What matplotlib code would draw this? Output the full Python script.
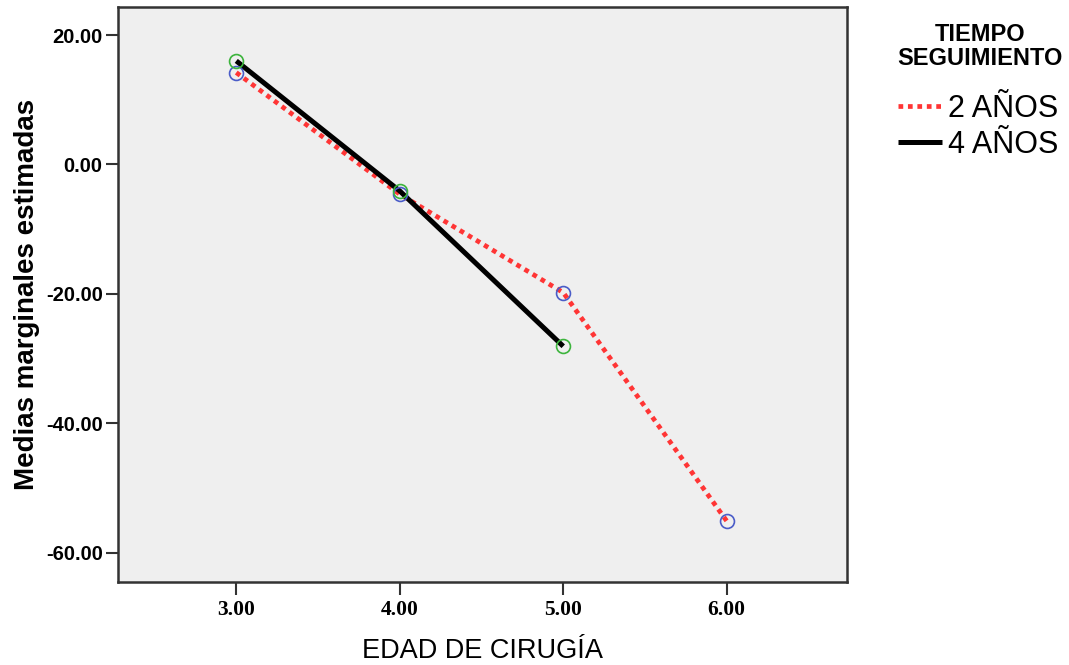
import matplotlib
matplotlib.use("Agg")
import matplotlib.pyplot as plt

# Estimated marginal means
edad = [3.0, 4.0, 5.0, 6.0]
medias_2 = [14.2, -4.6, -19.8, -55.1]
edad_4 = [3.0, 4.0, 5.0]
medias_4 = [16.0, -4.1, -28.1]

y_ticks = [20, 0, -20, -40, -60]
x_ticks = [3, 4, 5, 6]

fig = plt.figure(figsize=(10.69, 6.65), dpi=100)
ax = fig.add_axes([118 / 1069, 1 - 582 / 665, (847 - 118) / 1069, (582 - 7) / 665])
ax.set_facecolor("#efefef")

# lines
l2, = ax.plot(edad, medias_2, color="#ff3535", linestyle=(0, (1, 1)),
              linewidth=3.4, dash_capstyle="butt", zorder=2, label="2 AÑOS")
l4, = ax.plot(edad_4, medias_4, color="black", linewidth=3.6,
              solid_capstyle="butt", zorder=3, label="4 AÑOS")

# open circle markers
ax.plot(edad, medias_2, linestyle="none", marker="o", markersize=10,
        markerfacecolor="none", markeredgecolor="#4a5cc8", markeredgewidth=1.2, zorder=4)
ax.plot(edad_4, medias_4, linestyle="none", marker="o", markersize=10,
        markerfacecolor="none", markeredgecolor="#3cb43c", markeredgewidth=1.2, zorder=4)

ax.set_xlim(2.2765, 6.736)
ax.set_ylim(-64.53, 24.33)

ax.set_xticks(x_ticks)
ax.set_xticklabels(["%.2f" % v for v in x_ticks], family="Liberation Serif",
                   fontweight="bold", fontsize=15.5)
ax.set_yticks(y_ticks)
ax.set_yticklabels(["%.2f" % v for v in y_ticks], family="Liberation Sans",
                   fontweight="bold", fontsize=14.5)
ax.tick_params(direction="out", length=9, width=1.5, color="#333333", pad=2)
ax.tick_params(axis="x", pad=4)

for s in ax.spines.values():
    s.set_linewidth(1.8)
    s.set_color("#333333")

ax.set_xlabel("EDAD DE CIRUGÍA", family="Liberation Sans", fontsize=19.5, labelpad=13)
ax.set_ylabel("Medias marginales estimadas", family="Liberation Sans",
              fontweight="bold", fontsize=20, labelpad=4)

# legend
fig.text(980 / 1069, 1 - 23 / 665, "TIEMPO\nSEGUIMIENTO", ha="center", va="top",
         family="Liberation Sans", fontweight="bold", fontsize=17, linespacing=1.08)
fig.legend(handles=[l2, l4], loc="upper left",
           bbox_to_anchor=(898 / 1069, 1 - 94 / 665), frameon=False,
           prop={"family": "Liberation Sans", "size": 22},
           handlelength=1.45, handletextpad=0.2, labelspacing=0.2,
           borderpad=0, borderaxespad=0)

fig.savefig("out.png", dpi=100)
